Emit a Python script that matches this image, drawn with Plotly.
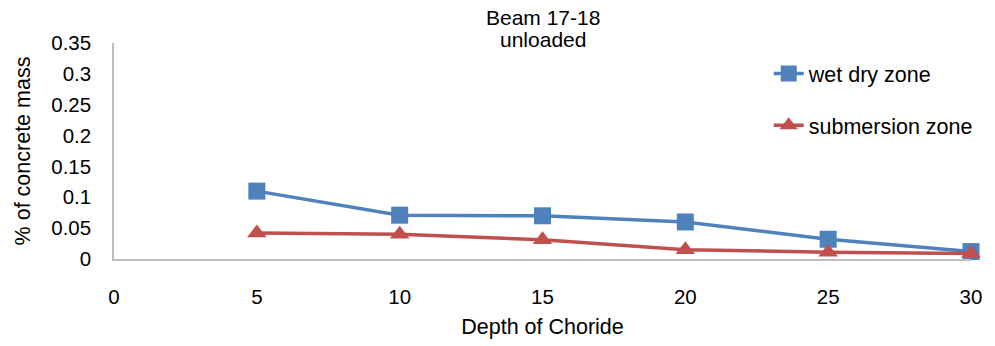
import plotly.graph_objects as go

depth = [5, 10, 15, 20, 25, 30]
wet_dry = [0.110, 0.071, 0.070, 0.060, 0.032, 0.012]
submersion = [0.042, 0.040, 0.031, 0.015, 0.011, 0.009]
x_ticks = [0, 5, 10, 15, 20, 25, 30]
y_ticks = [0, 0.05, 0.1, 0.15, 0.2, 0.25, 0.3, 0.35]
y_tick_text = ["0", "0.05", "0.1", "0.15", "0.2", "0.25", "0.3", "0.35"]
title_lines = ["Beam 17-18", "unloaded"]

FONT = "Liberation Sans, Arial, sans-serif"

fig = go.Figure()
fig.add_trace(go.Scatter(
    x=depth, y=wet_dry, name="wet dry zone", mode="lines+markers",
    line=dict(color="#4f81bd", width=3.5),
    marker=dict(symbol="square", size=17, color="#4f81bd"),
    legendgroup="a", cliponaxis=False))
fig.add_trace(go.Scatter(
    x=depth, y=submersion, name="submersion zone", mode="lines+markers",
    line=dict(color="#c0504d", width=3.5),
    marker=dict(symbol="triangle-up", size=17, color="#c0504d"),
    legendgroup="b", cliponaxis=False))

fig.add_annotation(text=title_lines[0], xref="paper", yref="paper",
                   x=0.5, y=1.12, xanchor="center", yanchor="middle",
                   showarrow=False, font=dict(size=21))
fig.add_annotation(text=title_lines[1], xref="paper", yref="paper",
                   x=0.5, y=1.014, xanchor="center", yanchor="middle",
                   showarrow=False, font=dict(size=21))

fig.update_layout(
    width=995, height=346,
    margin=dict(l=114, r=24, t=43, b=87),
    paper_bgcolor="white", plot_bgcolor="white",
    font=dict(family=FONT, size=21, color="black"),
    showlegend=True,
    legend=dict(x=0.764, y=0.954, xanchor="left", yanchor="top",
                bgcolor="rgba(0,0,0,0)", tracegroupgap=21,
                font=dict(size=21.5)),
    xaxis=dict(range=[0, 30], tickvals=x_ticks, showgrid=False, zeroline=False,
               showline=True, linecolor="#bfbfbf", linewidth=1.5, automargin=False,
               ticks="", ticklabelstandoff=19, tickfont=dict(size=20.5),
               title=dict(text="Depth of Choride", font=dict(size=21.5), standoff=12)),
    yaxis=dict(range=[0, 0.35], tickvals=y_ticks, ticktext=y_tick_text,
               showgrid=False, zeroline=False, automargin=False,
               showline=True, linecolor="#bfbfbf", linewidth=1.5,
               ticks="", ticklabelstandoff=17, tickfont=dict(size=20.5),
               title=dict(text="% of concrete mass", font=dict(size=21.5), standoff=15)),
)

fig.write_html("out.html")
